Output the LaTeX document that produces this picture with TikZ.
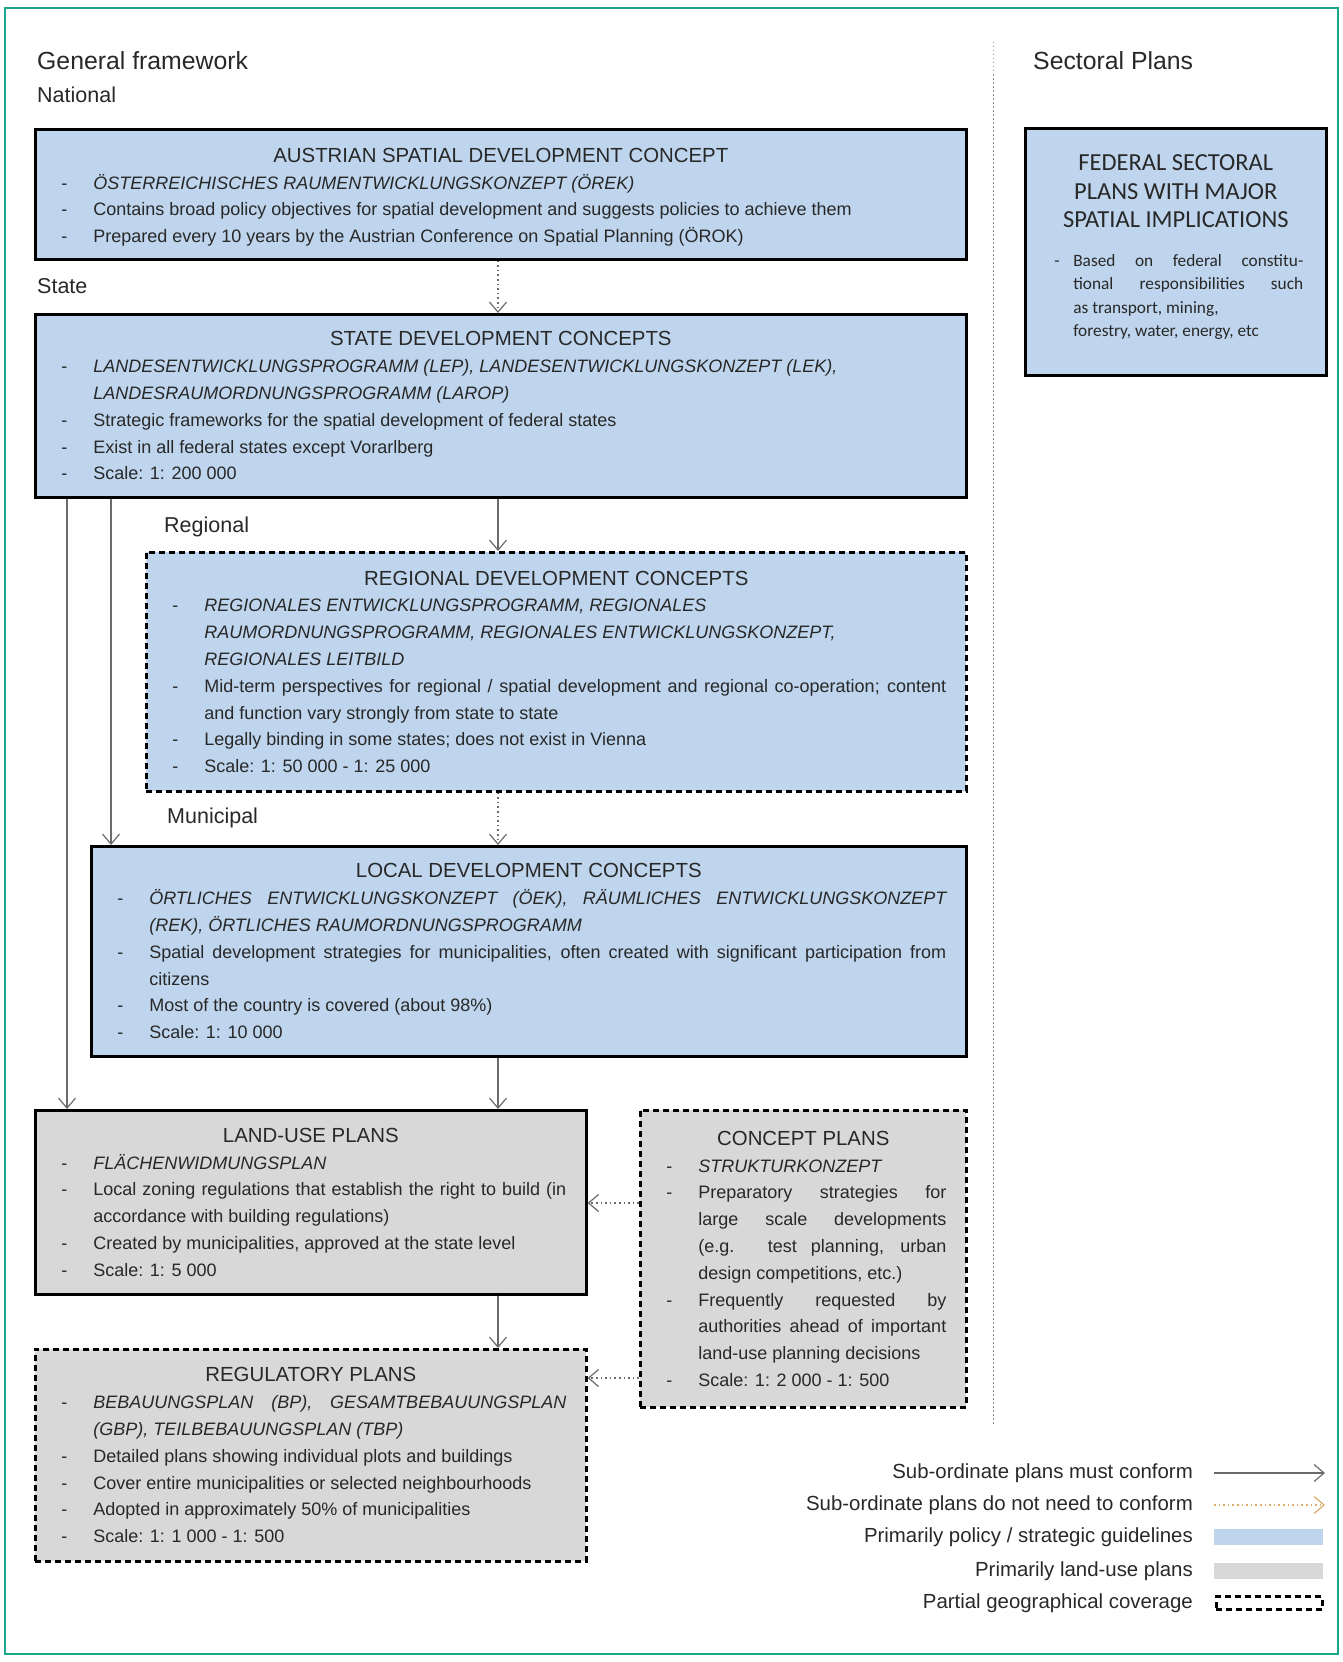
\documentclass[tikz,border=0pt]{standalone}
\usepackage{fontspec}
\setmainfont{Liberation Sans}
\newfontfamily\calfont{Carlito}
\usetikzlibrary{arrows.meta,positioning}

\definecolor{policyblue}{RGB}{190,213,237}
\definecolor{landgrey}{RGB}{216,216,216}
\definecolor{frameteal}{RGB}{26,166,138}
\definecolor{inkgrey}{RGB}{40,40,40}
\definecolor{dotorange}{RGB}{222,172,105}

\newcommand{\plantitle}[1]{{\centering\fontsize{20.4}{26.8}\selectfont #1\par}}
\newcommand{\planitem}[2][38pt]{\hangindent=#1\hangafter=1\noindent\makebox[#1][l]{\hspace{6pt}-}#2\par}
\newcommand{\planterm}[1]{\planitem{\textit{#1}}}
\newcommand{\brk}{\hfil\break}

\tikzset{
  planbox/.style={draw=black,line width=2.6pt,inner xsep=20pt,inner ysep=4pt,text=inkgrey,align=justify,anchor=north west,font=\fontsize{18}{26.8}\selectfont},
  policy/.style={planbox,fill=policyblue},
  landuse/.style={planbox,fill=landgrey},
  partial/.style={dash pattern=on 6pt off 4pt},
  conform/.style={-{Straight Barb[length=10pt,width=17pt]},draw=black!58,line width=1.2pt},
  noconform/.style={conform,dash pattern=on 1.6pt off 3pt},
  level/.style={font=\fontsize{21.5}{24}\selectfont,text=inkgrey,inner sep=0pt,anchor=west},
  heading/.style={level,font=\fontsize{24.8}{28}\selectfont},
  legtext/.style={font=\fontsize{20.4}{24}\selectfont,text=inkgrey,inner sep=0pt,anchor=east},
  legbar/.style={minimum width=109pt,minimum height=16pt,inner sep=0pt,anchor=west},
}

\begin{document}
\begin{tikzpicture}[x=1pt,y=-1pt]

  \useasboundingbox (0,0) rectangle (1342,1662);
  \draw[frameteal,line width=2pt] (5,8) rectangle (1338,1654);
  \draw[black!45,line width=1pt,dash pattern=on 1.5pt off 2.5pt] (993,42) -- (993,1426);

  \node[heading] (hgen) at (37,61)   {General framework};
  \node[heading] (hsec) at (1033,61) {Sectoral Plans};

  % LEVEL: national
  \node[level] (lnat) at (37,95) {National};
  \node[policy,text width=891pt,minimum height=130pt] (ausb) at (34,128) {%
    \plantitle{AUSTRIAN SPATIAL DEVELOPMENT CONCEPT}
    \planterm{ÖSTERREICHISCHES RAUMENTWICKLUNGSKONZEPT (ÖREK)}
    \planitem{Contains broad policy objectives for spatial development and suggests policies to achieve them}
    \planitem{Prepared every 10 years by the Austrian Conference on Spatial Planning (ÖROK)}
    \vspace{-6pt}};

  % LEVEL: state
  \node[level] (lsta) at (37,286) {State};
  \node[policy,text width=891pt,minimum height=183pt] (stateb) at (34,313) {%
    \plantitle{STATE DEVELOPMENT CONCEPTS}
    \planterm{LANDESENTWICKLUNGSPROGRAMM (LEP), LANDESENTWICKLUNGSKONZEPT (LEK),\brk LANDESRAUMORDNUNGSPROGRAMM (LAROP)}
    \planitem{Strategic frameworks for the spatial development of federal states}
    \planitem{Exist in all federal states except Vorarlberg}
    \planitem{Scale: 1: 200 000}};

  % LEVEL: regional
  \node[level] (lreg) at (164,527) {Regional};
  \node[policy,partial,text width=780pt,minimum height=239pt] (regb) at (145,551) {%
    \plantitle{REGIONAL DEVELOPMENT CONCEPTS}
    \planterm{REGIONALES ENTWICKLUNGSPROGRAMM, REGIONALES\brk RAUMORDNUNGSPROGRAMM, REGIONALES ENTWICKLUNGSKONZEPT,\brk REGIONALES LEITBILD}
    \planitem{Mid-term perspectives for regional / spatial development and regional co-operation; content\linebreak and function vary strongly from state to state}
    \planitem{Legally binding in some states; does not exist in Vienna}
    \planitem{Scale: 1: 50 000 - 1: 25 000}};

  % LEVEL: municipal
  \node[level] (lmun) at (167,818) {Municipal};
  \node[policy,text width=835pt,minimum height=210pt] (locb) at (90,845) {%
    \plantitle{LOCAL DEVELOPMENT CONCEPTS}
    \planterm{ÖRTLICHES ENTWICKLUNGSKONZEPT (ÖEK), RÄUMLICHES ENTWICKLUNGSKONZEPT\linebreak (REK), ÖRTLICHES RAUMORDNUNGSPROGRAMM}
    \planitem{Spatial development strategies for municipalities, often created with significant participation from\linebreak citizens}
    \planitem{Most of the country is covered (about 98\%)}
    \planitem{Scale: 1: 10 000}};

  \node[landuse,text width=511pt,minimum height=184pt] (landb) at (34,1109) {%
    \plantitle{LAND-USE PLANS}
    \planterm{FLÄCHENWIDMUNGSPLAN}
    \planitem{Local zoning regulations that establish the right to build (in\linebreak accordance with building regulations)}
    \planitem{Created by municipalities, approved at the state level}
    \planitem{Scale: 1: 5 000}};

  \node[landuse,partial,text width=286pt,minimum height=297pt] (conb) at (639,1109) {%
    \plantitle{CONCEPT PLANS}
    \planterm{STRUKTURKONZEPT}
    \planitem{Preparatory strategies for\linebreak large scale developments\linebreak (e.g. test planning, urban\linebreak design competitions, etc.)}
    \planitem{Frequently requested by\linebreak authorities ahead of important\linebreak land-use planning decisions}
    \planitem{Scale: 1: 2 000 - 1: 500}};

  \node[landuse,partial,text width=511pt,minimum height=212pt] (regub) at (34,1348) {%
    \plantitle{REGULATORY PLANS}
    \planterm{BEBAUUNGSPLAN (BP), GESAMTBEBAUUNGSPLAN\linebreak (GBP), TEILBEBAUUNGSPLAN (TBP)}
    \planitem{Detailed plans showing individual plots and buildings}
    \planitem{Cover entire municipalities or selected neighbourhoods}
    \planitem{Adopted in approximately 50\% of municipalities}
    \planitem{Scale: 1: 1 000 - 1: 500}};

  % SECTORAL
  \node[policy,text width=255pt,inner xsep=23pt,minimum height=247pt,font=\calfont\fontsize{17.3}{23.6}\selectfont] (fedb) at (1024,127) {%
    {\centering\fontsize{24.5}{28.5}\selectfont FEDERAL SECTORAL\\ PLANS WITH MAJOR\\ SPATIAL IMPLICATIONS\par}
    \vspace{15pt}
    \planitem[25pt]{Based on federal constitu-\linebreak tional responsibilities such\linebreak as transport, mining,\brk forestry, water, energy, etc}
    \vspace{9pt}};

  % connectors
  \coordinate (colA) at (67,0);
  \coordinate (colB) at (111,0);
  \coordinate (colC) at (498,0);
  \coordinate (rowA) at (0,1203);
  \coordinate (rowB) at (0,1378);
  \draw[noconform] (ausb.south -| colC)   -- (stateb.north -| colC);
  \draw[conform]   (stateb.south -| colC) -- (regb.north -| colC);
  \draw[conform]   (stateb.south -| colB) -- (locb.north -| colB);
  \draw[conform]   (stateb.south -| colA) -- (landb.north -| colA);
  \draw[noconform] (regb.south -| colC)   -- (locb.north -| colC);
  \draw[conform]   (locb.south -| colC)   -- (landb.north -| colC);
  \draw[conform]   (landb.south -| colC)  -- (regub.north -| colC);
  \draw[noconform] (conb.west |- rowA)    -- (landb.east |- rowA);
  \draw[noconform] (conb.west |- rowB)    -- (regub.east |- rowB);

  % legend
  \node[legtext] (leg1) at (1193,1473) {Sub-ordinate plans must conform};
  \node[legtext] (leg2) at (1193,1505) {Sub-ordinate plans do not need to conform};
  \node[legtext] (leg3) at (1193,1537) {Primarily policy / strategic guidelines};
  \node[legtext] (leg4) at (1193,1571) {Primarily land-use plans};
  \node[legtext] (leg5) at (1193,1603) {Partial geographical coverage};
  \coordinate (leg1s) at ([xshift=21pt]leg1.east);
  \coordinate (leg1e) at ([xshift=132pt]leg1.east);
  \coordinate (leg2s) at ([xshift=21pt]leg2.east);
  \coordinate (leg2e) at ([xshift=132pt]leg2.east);
  \draw[conform] (leg1s) -- (leg1e);
  \draw[noconform,draw=dotorange] (leg2s) -- (leg2e);
  \node[legbar,fill=policyblue] (legblue) at ([xshift=21pt]leg3.east) {};
  \node[legbar,fill=landgrey]   (leggrey) at ([xshift=21pt]leg4.east) {};
  \node[legbar,draw=black,line width=2.6pt,partial,minimum width=106pt,minimum height=13pt] (legpart) at ([xshift=22pt]leg5.east) {};

\end{tikzpicture}
\end{document}
